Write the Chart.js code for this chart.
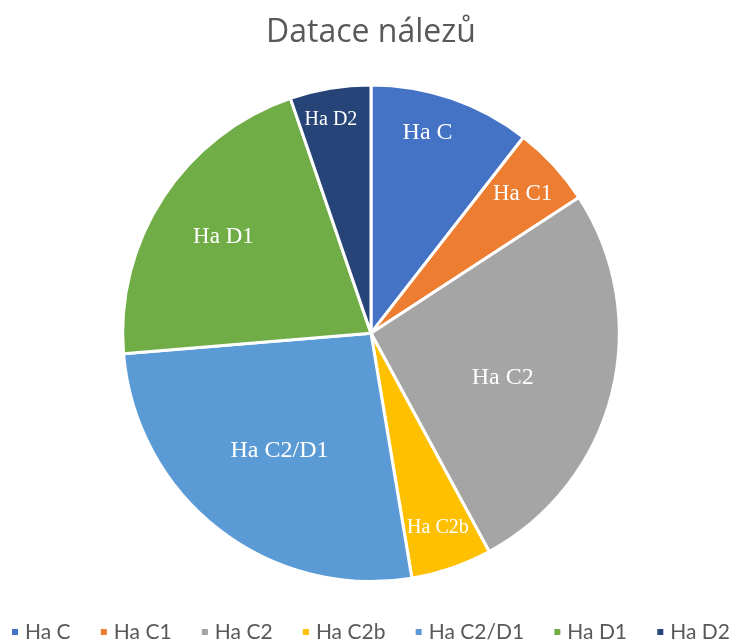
<!DOCTYPE html>
<html>
<head>
<meta charset="utf-8">
<script src="https://cdn.jsdelivr.net/npm/chart.js@4/dist/chart.umd.min.js"></script>
<style>
html,body{margin:0;padding:0;background:#fff;}
#wrap{width:742px;height:642px;}
</style>
</head>
<body>
<div id="wrap"><canvas id="c" width="742" height="642"></canvas></div>
<script>
const title = "Datace nálezů";
const categories = ["Ha C", "Ha C1", "Ha C2", "Ha C2b", "Ha C2/D1", "Ha D1", "Ha D2"];
const counts = [4, 2, 10, 2, 10, 8, 2];
const colors = ["#4472C4", "#ED7D31", "#A5A5A5", "#FFC000", "#5B9BD5", "#70AD47", "#264478"];

// label placement inside slices: fraction of radius, font size, angle nudge (rad)
const labelStyle = [
  {r: 0.84, size: 24, da: -0.056},
  {r: 0.83, size: 23},
  {r: 0.56, size: 24, da: 0.077},
  {r: 0.83, size: 20},
  {r: 0.60, size: 24},
  {r: 0.71, size: 23},
  {r: 0.875, size: 20, da: -0.02}
];

const sliceLabels = {
  id: 'sliceLabels',
  afterDatasetsDraw(chart) {
    const ctx = chart.ctx;
    const meta = chart.getDatasetMeta(0);
    ctx.save();
    ctx.fillStyle = '#ffffff';
    ctx.textAlign = 'center';
    ctx.textBaseline = 'middle';
    meta.data.forEach((arc, i) => {
      const p = arc.getProps(['x','y','startAngle','endAngle','outerRadius'], true);
      const st = labelStyle[i];
      const a = (p.startAngle + p.endAngle) / 2 + (st.da || 0);
      const r = p.outerRadius * st.r;
      ctx.font = st.size + 'px "Liberation Serif", "Times New Roman", serif';
      ctx.fillText(categories[i], p.x + Math.cos(a) * r, p.y + Math.sin(a) * r);
    });
    ctx.restore();
  }
};

// bottom legend drawn manually so all items fit on one row
const bottomLegend = {
  id: 'bottomLegend',
  afterDraw(chart) {
    const ctx = chart.ctx;
    const font = '21px Lato, "Open Sans", sans-serif';
    const box = 6, boxGap = 7, span = 718;
    const yMid = chart.height - 10;
    ctx.save();
    ctx.font = font;
    ctx.textBaseline = 'middle';
    ctx.textAlign = 'left';
    const widths = categories.map(t => ctx.measureText(t).width);
    const used = widths.reduce((s, w) => s + box + boxGap + w, 0);
    const itemGap = Math.max(10, (span - used) / (categories.length - 1));
    const total = used + itemGap * (categories.length - 1);
    let x = (chart.width - total) / 2;
    categories.forEach((t, i) => {
      ctx.fillStyle = colors[i];
      ctx.fillRect(x, yMid - box / 2, box, box);
      x += box + boxGap;
      ctx.fillStyle = '#595959';
      ctx.fillText(t, x, yMid);
      x += widths[i] + itemGap;
    });
    ctx.restore();
  }
};

new Chart(document.getElementById('c'), {
  type: 'pie',
  data: {
    labels: categories,
    datasets: [{
      data: counts,
      backgroundColor: colors,
      borderColor: '#ffffff',
      borderWidth: 3
    }]
  },
  options: {
    responsive: false,
    animation: false,
    layout: {padding: {top: 0, bottom: 59, left: 0, right: 0}},
    plugins: {
      title: {
        display: true,
        text: title,
        color: '#595959',
        font: {family: '"Open Sans", Lato, sans-serif', size: 32, weight: 'normal'},
        padding: {top: 14, bottom: 31}
      },
      legend: {display: false},
      tooltip: {enabled: false}
    }
  },
  plugins: [sliceLabels, bottomLegend]
});
</script>
</body>
</html>
